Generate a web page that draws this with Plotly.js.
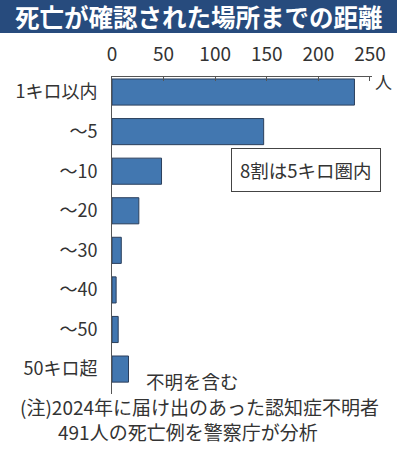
<!DOCTYPE html>
<html><head><meta charset="utf-8">
<script src="https://cdn.plot.ly/plotly-3.0.1.min.js"></script>
<style>html,body{margin:0;padding:0;background:#fff;}#chart{width:397px;height:456px;}</style>
</head><body><div id="chart"></div>
<script>
const categories = ["1キロ以内", "～5", "～10", "～20", "～30", "～40", "～50", "50キロ超"];
const values = [235, 147, 48, 26, 9, 4, 6, 16];
const tickVals = [0, 50, 100, 150, 200, 250];
const titleText = "死亡が確認された場所までの距離";
const unitText = "人";
const boxText = "8割は5キロ圏内";
const noteUnknown = "不明を含む";
const footLine1 = "(注)2024年に届け出のあった認知症不明者";
const footLine2 = "491人の死亡例を警察庁が分析";

const F = "'Noto Sans CJK JP', 'Noto Sans', sans-serif";
const FN = "'Liberation Sans Narrow', 'Noto Sans CJK JP', sans-serif";
const txt = "#333333";

const trace = {
  type: "bar", orientation: "h",
  x: values, y: categories,
  marker: {color: "#4277b0", line: {color: "#2b3f5c", width: 1}},
  width: 0.66, hoverinfo: "none"
};

const layout = {
  width: 397, height: 456,
  margin: {l: 112, r: 25, t: 77, b: 62, pad: 0},
  paper_bgcolor: "#fff", plot_bgcolor: "#fff",
  showlegend: false,
  font: {family: F, color: txt},
  xaxis: {
    side: "top", range: [0, 252], tickvals: tickVals,
    ticks: "inside", ticklen: 4, tickcolor: "#555", tickwidth: 1,
    showline: true, linecolor: "#555", linewidth: 1,
    showgrid: false, zeroline: false,
    tickfont: {family: FN, size: 19, color: txt},
    ticklabelstandoff: 7, fixedrange: true
  },
  yaxis: {
    type: "category", range: [7.63, -0.38],
    showline: true, linecolor: "#555", linewidth: 1,
    ticks: "", showgrid: false, zeroline: false,
    tickfont: {family: F, size: 18, color: txt},
    ticklabelstandoff: 10, fixedrange: true
  },
  shapes: [
    {type: "rect", xref: "paper", yref: "paper", x0: -112/260, x1: 285/260,
     y0: 1 + (77-33)/317, y1: 1 + 77/317,
     fillcolor: "#274b7d", line: {width: 0}, layer: "below"}
  ],
  annotations: [
    {text: "<b>" + titleText + "</b>", xref: "paper", yref: "paper",
     x: (199-112)/260, y: 1 + (77-16.5)/317, xanchor: "center", yanchor: "middle",
     showarrow: false, font: {family: F, size: 24.5, color: "#ffffff"}},
    {text: unitText, xref: "paper", yref: "paper",
     x: (383-112)/260, y: 1 + (77-81)/317, xanchor: "center", yanchor: "middle",
     showarrow: false, font: {family: F, size: 17, color: txt}},
    {text: boxText, xref: "paper", yref: "paper",
     x: (306-112)/260, y: 1 - (170-77)/317, xanchor: "center", yanchor: "middle",
     showarrow: false, font: {family: F, size: 18.5, color: txt},
     bordercolor: "#444", borderwidth: 1, borderpad: 8, bgcolor: "#fff"},
    {text: noteUnknown, xref: "paper", yref: "paper",
     x: (144-112)/260, y: 1 - (381-77)/317, xanchor: "left", yanchor: "middle",
     showarrow: false, font: {family: F, size: 18.5, color: txt}},
    {text: footLine1 + "<br>\u3000\u3000" + footLine2, xref: "paper", yref: "paper",
     x: (18-112)/260, y: 1 - (419-77)/317, xanchor: "left", yanchor: "middle",
     align: "left",
     showarrow: false, font: {family: F, size: 19, color: txt}}
  ]
};

Plotly.newPlot("chart", [trace], layout, {displayModeBar: false, staticPlot: true});
</script>
</body></html>
